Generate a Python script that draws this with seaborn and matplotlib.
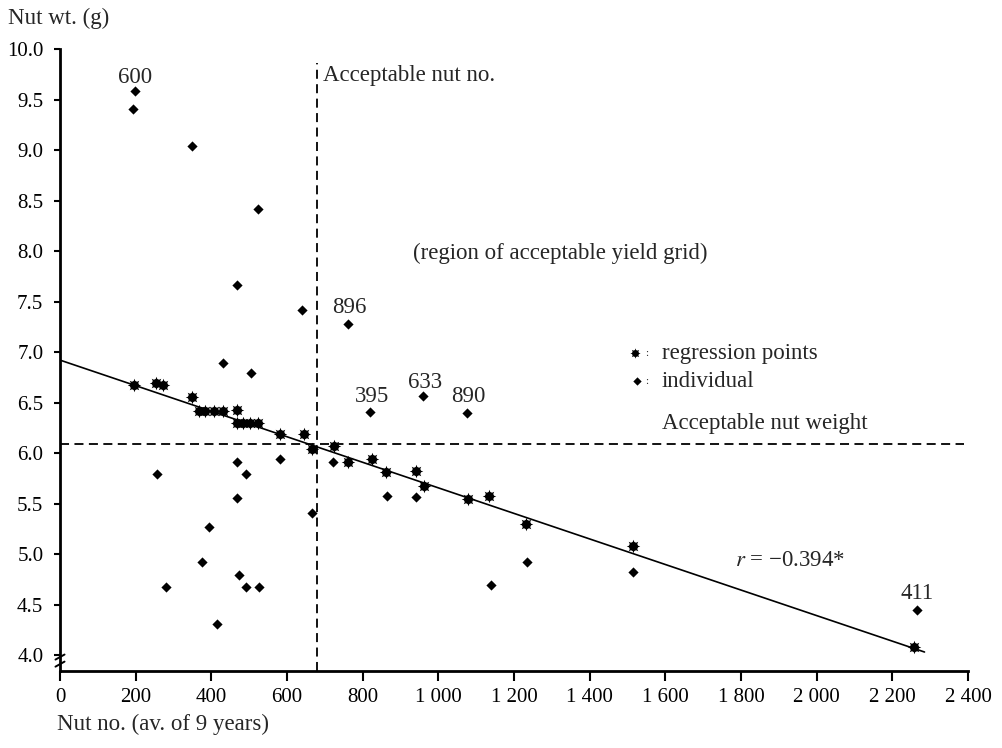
import matplotlib
matplotlib.use("Agg")
import matplotlib.pyplot as plt
import numpy as np
import pandas as pd
import seaborn as sns

# ---------------- data ----------------
# individual trees (diamonds)
ind_x = [198, 193, 349, 523, 467, 640, 762, 430, 504, 819, 960, 1075, 257, 469, 491, 582,
         469, 395, 375, 279, 473, 492, 527, 414, 665, 722, 864, 941, 1235, 1138, 1515, 2266]
ind_y = [9.58, 9.41, 9.04, 8.42, 7.66, 7.42, 7.28, 6.89, 6.79, 6.41, 6.56, 6.40, 5.79, 5.91, 5.79, 5.94,
         5.55, 5.27, 4.92, 4.67, 4.79, 4.67, 4.67, 4.31, 5.41, 5.91, 5.57, 5.56, 4.92, 4.69, 4.82, 4.45]

# regression points (asterisks)
reg_x = [196, 253, 273, 350, 367, 383, 407, 430, 469, 467, 485, 502, 524, 582, 646, 665,
         725, 762, 824, 862, 940, 962, 1078, 1134, 1232, 1514, 2256]
reg_y = [6.67, 6.69, 6.67, 6.55, 6.42, 6.42, 6.42, 6.42, 6.43, 6.30, 6.30, 6.30, 6.30, 6.19, 6.19, 6.04,
         6.07, 5.91, 5.94, 5.81, 5.82, 5.67, 5.54, 5.57, 5.30, 5.08, 4.08]

# fitted regression line end points
line_x = [0, 2285]
line_y = [6.92, 4.03]

# acceptability thresholds
acc_nut_no = 679
acc_nut_wt = 6.09

# labelled trees
lab_text = ["600", "896", "395", "633", "890", "411"]
lab_x = [198, 764, 825, 965, 1078, 2265]
lab_y = [9.72, 7.44, 6.56, 6.70, 6.555, 4.61]

x_ticks = [0, 200, 400, 600, 800, 1000, 1200, 1400, 1600, 1800, 2000, 2200, 2400]
x_tick_labels = ["0", "200", "400", "600", "800", "1 000", "1 200", "1 400", "1 600",
                 "1 800", "2 000", "2 200", "2 400"]
y_ticks = [4.0, 4.5, 5.0, 5.5, 6.0, 6.5, 7.0, 7.5, 8.0, 8.5, 9.0, 9.5, 10.0]
y_tick_labels = ["4.0", "4.5", "5.0", "5.5", "6.0", "6.5", "7.0", "7.5", "8.0", "8.5", "9.0", "9.5", "10.0"]

# ---------------- style ----------------
sns.set_style("ticks")
plt.rcParams["font.family"] = ["Liberation Serif", "DejaVu Serif"]
plt.rcParams["mathtext.fontset"] = "stix"

TXT = 16.5
TCK = 15

fig = plt.figure(figsize=(10.02, 7.48), dpi=100)
ax = fig.add_axes([60 / 1002, 1 - 671 / 748, 908 / 1002, 622 / 748])

ymin, ymax = 3.842, 10.0
ax.set_xlim(0, 2400)
ax.set_ylim(ymin, ymax)

ind_df = pd.DataFrame({"x": ind_x, "y": ind_y})
reg_df = pd.DataFrame({"x": reg_x, "y": reg_y})

# regression line
sns.lineplot(x=line_x, y=line_y, ax=ax, color="black", lw=1.2, zorder=2)

# threshold dashed lines
ax.vlines(acc_nut_no, ymin, 9.86, colors="black", linestyles=(0, (5, 3)), lw=1.3, zorder=1)
ax.hlines(acc_nut_wt, 0, 2390, colors="black", linestyles=(0, (5, 3)), lw=1.3, zorder=1)

# points
sns.scatterplot(data=ind_df, x="x", y="y", ax=ax, marker="D", s=27, color="black",
                linewidth=0, zorder=3)
sns.scatterplot(data=reg_df, x="x", y="y", ax=ax, marker="o", s=42, color="black",
                linewidth=0, zorder=3)
sns.scatterplot(data=reg_df, x="x", y="y", ax=ax, marker=(8, 1, 0), s=95, color="black",
                linewidth=0, zorder=3)

# labels for particular trees
for t, x, y in zip(lab_text, lab_x, lab_y):
    ax.text(x, y, t, ha="center", va="center", fontsize=TXT)

# annotation texts
ax.text(695, 9.74, "Acceptable nut no.", ha="left", va="center", fontsize=TXT)
ax.text(933, 7.98, "(region of acceptable yield grid)", ha="left", va="center", fontsize=TXT)
ax.text(1591, 6.29, "Acceptable nut weight", ha="left", va="center", fontsize=TXT)
ax.text(1784, 4.94, r"$r$ = −0.394*", ha="left", va="center", fontsize=TXT)

# key
ax.scatter([1520], [6.99], marker="o", s=24, color="black", linewidths=0, clip_on=False)
ax.scatter([1520], [6.99], marker=(8, 1, 0), s=55, color="black", linewidths=0, clip_on=False)
ax.scatter([1525], [6.71], marker="D", s=18, color="black", linewidths=0, clip_on=False)
ax.text(1552, 6.985, ":", ha="center", va="center", fontsize=8)
ax.text(1552, 6.705, ":", ha="center", va="center", fontsize=8)
ax.text(1591, 6.99, "regression points", ha="left", va="center", fontsize=TXT)
ax.text(1591, 6.71, "individual", ha="left", va="center", fontsize=TXT)

# axes
ax.set_xticks(x_ticks)
ax.set_xticklabels(x_tick_labels)
ax.set_yticks(y_ticks)
ax.set_yticklabels(y_tick_labels)
ax.set_xlabel("")
ax.set_ylabel("")
sns.despine(ax=ax)
for s in ["left", "bottom"]:
    ax.spines[s].set_linewidth(2.0)
    ax.spines[s].set_color("black")
ax.tick_params(axis="x", direction="out", length=7, width=1.5, pad=5, labelsize=TCK, colors="black")
ax.tick_params(axis="y", direction="out", length=4, width=1.5, pad=8, labelsize=TCK, colors="black")

# axis break mark on the y axis
tr = ax.get_yaxis_transform()
for yb in [3.98, 3.91]:
    ax.plot([-0.005, 0.005], [yb - 0.025, yb + 0.025], transform=tr, color="black",
            lw=1.4, clip_on=False)

fig.text(8 / 1002, 1 - 18 / 748, "Nut wt. (g)", ha="left", va="center", fontsize=TXT)
fig.text(57 / 1002, 1 - 724 / 748, "Nut no. (av. of 9 years)", ha="left", va="center", fontsize=TXT)

fig.savefig("out.png", dpi=100, facecolor="white")
